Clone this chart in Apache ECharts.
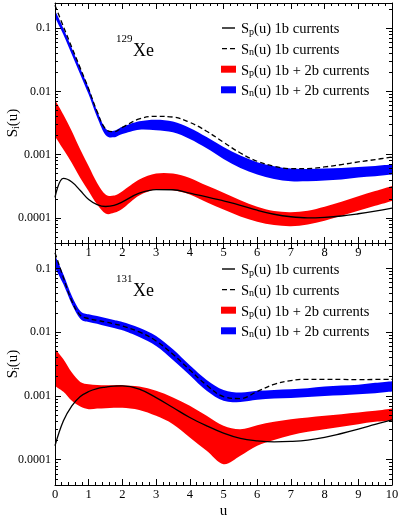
<!DOCTYPE html>
<html lang="en">
<head>
<meta charset="UTF-8">
<title>Xe structure functions</title>
<style>
    *{
        margin: 0;
        padding: 0;
    }
    body{
        background: #fff;
    }
    #chart{
        width: 399px;
        height: 516px;
    }
</style>
</head>
<body>
<div id="chart"></div>
<script src="https://cdn.jsdelivr.net/npm/echarts@6/dist/echarts.min.js"></script>
<script>
    // momentum transfer grid
    const U = [0, 0.25, 0.5, 0.75, 1, 1.25, 1.5, 1.75, 2, 2.5, 3, 3.5, 4, 4.5, 5, 5.5, 6, 6.5, 7, 7.5, 8, 8.5, 9, 9.5, 10];

    // 129Xe
    const xe129Sp1b = [2.1e-4, 4.2e-4, 3.7e-4, 2.7e-4, 1.95e-4, 1.62e-4, 1.51e-4, 1.57e-4, 1.79e-4, 2.45e-4, 2.8e-4, 2.78e-4, 2.45e-4, 2.15e-4, 1.85e-4, 1.58e-4, 1.32e-4, 1.14e-4, 1.04e-4, 1.0e-4, 1.02e-4, 1.07e-4, 1.16e-4, 1.28e-4, 1.43e-4];
    const xe129Sn1b = [0.23, 0.106, 0.0495, 0.0234, 0.0109, 0.0048, 0.00255, 0.0023, 0.0027, 0.00366, 0.00403, 0.00393, 0.00324, 0.00234, 0.00157, 0.00106, 0.000785, 0.000654, 0.000601, 0.000601, 0.000638, 0.000695, 0.000766, 0.000834, 0.000918];
    const xe129SpLo = [0.00195, 0.0012, 0.000739, 0.000428, 0.000264, 0.000162, 0.000117, 0.00012, 0.000139, 0.000225, 0.00028, 0.000273, 0.000234, 0.000177, 0.000135, 0.000105, 0.000087, 0.000077, 0.0000739, 0.0000785, 0.00009, 0.000108, 0.00013, 0.000155, 0.000185];
    const xe129SpHi = [0.00739, 0.00428, 0.00234, 0.0012, 0.000654, 0.000357, 0.000234, 0.000225, 0.000264, 0.000403, 0.000501, 0.000501, 0.000428, 0.000324, 0.00025, 0.00019, 0.00015, 0.000128, 0.000123, 0.00013, 0.00015, 0.00018, 0.00022, 0.000265, 0.00032];
    const xe129SnLo = [0.148, 0.079, 0.0383, 0.0185, 0.0089, 0.0039, 0.00205, 0.00188, 0.00212, 0.00248, 0.00242, 0.00225, 0.00177, 0.00126, 0.000855, 0.000615, 0.000483, 0.000413, 0.000379, 0.000379, 0.000388, 0.000403, 0.000434, 0.000455, 0.000483];
    const xe129SnHi = [0.192, 0.099, 0.048, 0.0232, 0.0113, 0.0049, 0.0026, 0.00238, 0.00275, 0.00336, 0.00357, 0.00333, 0.00264, 0.0019, 0.00132, 0.000964, 0.000757, 0.000654, 0.000601, 0.000594, 0.000601, 0.000615, 0.000638, 0.000662, 0.000695];

    // 131Xe
    const xe131Sp1b = [1.65e-4, 4.06e-4, 6.97e-4, 9.76e-4, 1.17e-3, 1.3e-3, 1.37e-3, 1.42e-3, 1.43e-3, 1.28e-3, 9.4e-4, 6.57e-4, 4.58e-4, 3.39e-4, 2.6e-4, 2.15e-4, 1.97e-4, 1.9e-4, 1.93e-4, 2.02e-4, 2.23e-4, 2.57e-4, 3.0e-4, 3.56e-4, 4.21e-4];
    const xe131Sn1b = [0.176, 0.0714, 0.0308, 0.01836, 0.01626, 0.0153, 0.01443, 0.01343, 0.01249, 0.01006, 0.00727, 0.00449, 0.00255, 0.00147, 0.000976, 0.000908, 0.00117, 0.00152, 0.00174, 0.00182, 0.00182, 0.00181, 0.0018, 0.00181, 0.00182];
    const xe131SpLo = [0.00143, 0.001156, 0.000835, 0.000681, 0.000618, 0.000633, 0.000641, 0.000649, 0.000649, 0.000603, 0.000486, 0.00036, 0.000223, 0.0001375, 0.000085, 0.000115, 0.000165, 0.000204, 0.000242, 0.000273, 0.0003, 0.000327, 0.00036, 0.000392, 0.000411];
    const xe131SpHi = [0.00551, 0.00375, 0.00232, 0.001657, 0.001523, 0.001487, 0.00147, 0.00147, 0.00147, 0.0014, 0.0012, 0.000941, 0.000697, 0.000486, 0.000339, 0.0003, 0.000347, 0.000392, 0.000431, 0.000458, 0.000486, 0.000516, 0.000548, 0.000582, 0.000633];
    const xe131SnLo = [0.1024, 0.0561, 0.0273, 0.01628, 0.01443, 0.01359, 0.01249, 0.01162, 0.01068, 0.0084, 0.00607, 0.00366, 0.00211, 0.0012, 0.000835, 0.000805, 0.000866, 0.000908, 0.00093, 0.000964, 0.001, 0.00102, 0.00106, 0.0011, 0.00117];
    const xe131SnHi = [0.16, 0.0805, 0.0369, 0.0215, 0.019, 0.0179, 0.01667, 0.0155, 0.01443, 0.01176, 0.00871, 0.00538, 0.00302, 0.00178, 0.00124, 0.00113, 0.0012, 0.00124, 0.00127, 0.00132, 0.0014, 0.00145, 0.0015, 0.0016, 0.0017];

    const panels = [
        {iso: '129', sp1b: xe129Sp1b, sn1b: xe129Sn1b, spLo: xe129SpLo, spHi: xe129SpHi, snLo: xe129SnLo, snHi: xe129SnHi},
        {iso: '131', sp1b: xe131Sp1b, sn1b: xe131Sn1b, spLo: xe131SpLo, spHi: xe131SpHi, snLo: xe131SnLo, snHi: xe131SnHi}
    ];

    const legendText = {
        'Sp 1b': '{t|S}{s|p}{t|(u) 1b currents}',
        'Sn 1b': '{t|S}{s|n}{t|(u) 1b currents}',
        'Sp 1b+2b': '{t|S}{s|p}{t|(u) 1b + 2b currents}',
        'Sn 1b+2b': '{t|S}{s|n}{t|(u) 1b + 2b currents}'
    };

    const FONT = '"Liberation Serif", "DejaVu Serif", serif';
    const yMin = 4e-5, yMax = 0.25;
    const lgMin = Math.log10(yMin), lgMax = Math.log10(yMax);
    const majorDec = [-4, -3, -2, -1];
    const minorDec = [];
    for (let n = -5; n <= -1; n++) {
        for (let k = 2; k <= 9; k++) {
            let v = n + Math.log10(k);
            if (v > lgMin && v < lgMax) minorDec.push(v);
        }
    }

    const gridPos = [
        {left: 55, top: 3, width: 337, height: 240},
        {left: 55, top: 243, width: 337, height: 242}
    ];
    const legendTop = [22, 263];

    // legend icons: thin bar (solid line), two short bars (dashed line)
    const solidIcon = 'path://M0,0L0,0M1,2.8L14,2.8L14,4.2L1,4.2ZM15,7L15,7';
    const dashIcon = 'path://M0,0L0,0M1,2.8L6,2.8L6,4.2L1,4.2ZM9,2.8L14,2.8L14,4.2L9,4.2ZM15,7L15,7';

    // smooth path through pixel points (Catmull-Rom as cubic Bezier)
    function curveTo(pts) {
        let d = '';
        for (let i = 0; i < pts.length - 1; i++) {
            let p0 = pts[i - 1] || pts[i], p1 = pts[i], p2 = pts[i + 1], p3 = pts[i + 2] || pts[i + 1];
            let c1x = p1[0] + (p2[0] - p0[0]) / 6, c1y = p1[1] + (p2[1] - p0[1]) / 6;
            let c2x = p2[0] - (p3[0] - p1[0]) / 6, c2y = p2[1] - (p3[1] - p1[1]) / 6;
            d += 'C' + c1x + ',' + c1y + ' ' + c2x + ',' + c2y + ' ' + p2[0] + ',' + p2[1];
        }
        return d;
    }

    function bandSeries(name, xi, yi, lo, hi, color) {
        return {
            type: 'custom', name: name, xAxisIndex: xi, yAxisIndex: yi, silent: true,
            color: color, itemStyle: {color: color}, z: 2,
            data: U.map(function (u, i) { return [u, lo[i], hi[i]]; }),
            encode: {x: 0, y: [1, 2]},
            renderItem: function (params, api) {
                if (params.dataIndex !== 0) return null;
                let top = U.map(function (u, i) { return api.coord([u, hi[i]]); });
                let bot = U.map(function (u, i) { return api.coord([u, lo[i]]); }).reverse();
                let d = 'M' + top[0][0] + ',' + top[0][1] + curveTo(top)
                    + 'L' + bot[0][0] + ',' + bot[0][1] + curveTo(bot) + 'Z';
                return {type: 'path', shape: {pathData: d}, style: {fill: color, stroke: null}};
            }
        };
    }

    let grids = [], xAxes = [], yAxes = [], series = [], legends = [], graphics = [];
    let axisLine = {show: true, onZero: false, lineStyle: {color: '#000', width: 1}};

    panels.forEach(function (p, g) {
        grids.push(Object.assign({outerBoundsMode: 'none', containLabel: false}, gridPos[g]));

        ['bottom', 'top'].forEach(function (pos) {
            xAxes.push({
                gridIndex: g, type: 'value', position: pos, min: 0, max: 10, interval: 1, z: 5,
                axisLine: axisLine,
                axisTick: {inside: true, length: 6, lineStyle: {color: '#000'}},
                minorTick: {show: true, splitNumber: 5, length: 3, lineStyle: {color: '#000'}},
                splitLine: {show: false},
                axisLabel: {
                    show: pos === 'bottom', margin: 3, fontSize: 12.5, fontFamily: FONT, color: '#000',
                    showMinLabel: g === 1, showMaxLabel: g === 1
                },
                name: (pos === 'bottom' && g === 1) ? 'u' : '',
                nameLocation: 'middle', nameGap: 19, nameMoveOverlap: false,
                nameTextStyle: {fontFamily: FONT, fontSize: 15, color: '#000'}
            });
        });

        // log axis that carries the data
        yAxes.push({
            gridIndex: g, type: 'log', logBase: 10, min: yMin, max: yMax, position: 'left',
            axisLine: {show: false}, axisTick: {show: false}, axisLabel: {show: false}, splitLine: {show: false}
        });
        // decade ticks / labels, drawn on log10 scale with the same extent
        ['left', 'right'].forEach(function (pos) {
            yAxes.push({
                gridIndex: g, type: 'value', min: lgMin, max: lgMax, position: pos, z: 5,
                axisLine: axisLine,
                axisTick: {inside: true, length: 6, customValues: majorDec, lineStyle: {color: '#000'}},
                axisLabel: {
                    show: pos === 'left', customValues: majorDec, margin: 4,
                    fontSize: 12, fontFamily: FONT, color: '#000',
                    formatter: function (v) { return Math.pow(10, v).toFixed(-Math.round(v)); }
                },
                splitLine: {show: false},
                name: pos === 'left' ? '{t|S}{s|i}{t|(u)}' : '',
                nameLocation: 'middle', nameRotate: 90, nameGap: 34, nameMoveOverlap: false,
                nameTextStyle: {
                    rich: {
                        t: {fontFamily: FONT, fontSize: 15, color: '#000', lineHeight: 18, verticalAlign: 'bottom'},
                        s: {fontFamily: FONT, fontSize: 10, color: '#000', lineHeight: 6, verticalAlign: 'bottom'}
                    }
                }
            });
            yAxes.push({
                gridIndex: g, type: 'value', min: lgMin, max: lgMax, position: pos, z: 5,
                axisLine: {show: false, onZero: false},
                axisTick: {inside: true, length: 3, customValues: minorDec, lineStyle: {color: '#000'}},
                axisLabel: {show: false},
                splitLine: {show: false}
            });
        });

        let yi = g * 5, xi = g * 2;
        let pairs = function (arr) { return U.map(function (u, i) { return [u, arr[i]]; }); };

        // uncertainty bands (1b + 2b currents)
        series.push(bandSeries('Sn 1b+2b', xi, yi, p.snLo, p.snHi, '#0000ff'));
        series.push(bandSeries('Sp 1b+2b', xi, yi, p.spLo, p.spHi, '#ff0000'));

        // 1b currents only
        series.push({
            type: 'line', name: 'Sp 1b', xAxisIndex: xi, yAxisIndex: yi, data: pairs(p.sp1b), z: 3,
            smooth: 0.4, symbol: 'none', showSymbol: false, silent: true, color: '#000',
            lineStyle: {color: '#000', width: 1.3}
        });
        series.push({
            type: 'line', name: 'Sn 1b', xAxisIndex: xi, yAxisIndex: yi, data: pairs(p.sn1b), z: 3,
            smooth: 0.4, symbol: 'none', showSymbol: false, silent: true, color: '#000',
            lineStyle: {color: '#000', width: 1.3, type: [5, 3]}
        });

        legends.push({
            orient: 'vertical', left: 221, top: legendTop[g], padding: 0,
            itemWidth: 15, itemHeight: 7, itemGap: 5.6, selectedMode: false,
            data: [
                {name: 'Sp 1b', icon: solidIcon, itemStyle: {color: '#000'}},
                {name: 'Sn 1b', icon: dashIcon, itemStyle: {color: '#000'}},
                {name: 'Sp 1b+2b', icon: 'rect', itemStyle: {color: '#ff0000'}},
                {name: 'Sn 1b+2b', icon: 'rect', itemStyle: {color: '#0000ff'}}
            ],
            formatter: function (name) { return legendText[name]; },
            textStyle: {
                fontFamily: FONT, fontSize: 14.5, color: '#000',
                rich: {
                    t: {fontFamily: FONT, fontSize: 14.5, color: '#000', lineHeight: 18, verticalAlign: 'bottom'},
                    s: {fontFamily: FONT, fontSize: 10, color: '#000', lineHeight: 6, verticalAlign: 'bottom'}
                }
            }
        });

        // isotope label
        let top = gridPos[g].top;
        graphics.push({
            type: 'text', x: 116, y: top + 36, z: 10,
            style: {text: p.iso, font: '11px ' + FONT, fill: '#000', verticalAlign: 'middle'}
        });
        graphics.push({
            type: 'text', x: 133, y: top + 48.5, z: 10,
            style: {text: 'Xe', font: '18px ' + FONT, fill: '#000', verticalAlign: 'middle'}
        });
    });

    let myChart = echarts.init(document.getElementById('chart'), null, {renderer: 'canvas'});
    myChart.setOption({
        animation: false,
        backgroundColor: '#fff',
        grid: grids,
        xAxis: xAxes,
        yAxis: yAxes,
        legend: legends,
        graphic: graphics,
        series: series
    });
</script>
</body>
</html>
